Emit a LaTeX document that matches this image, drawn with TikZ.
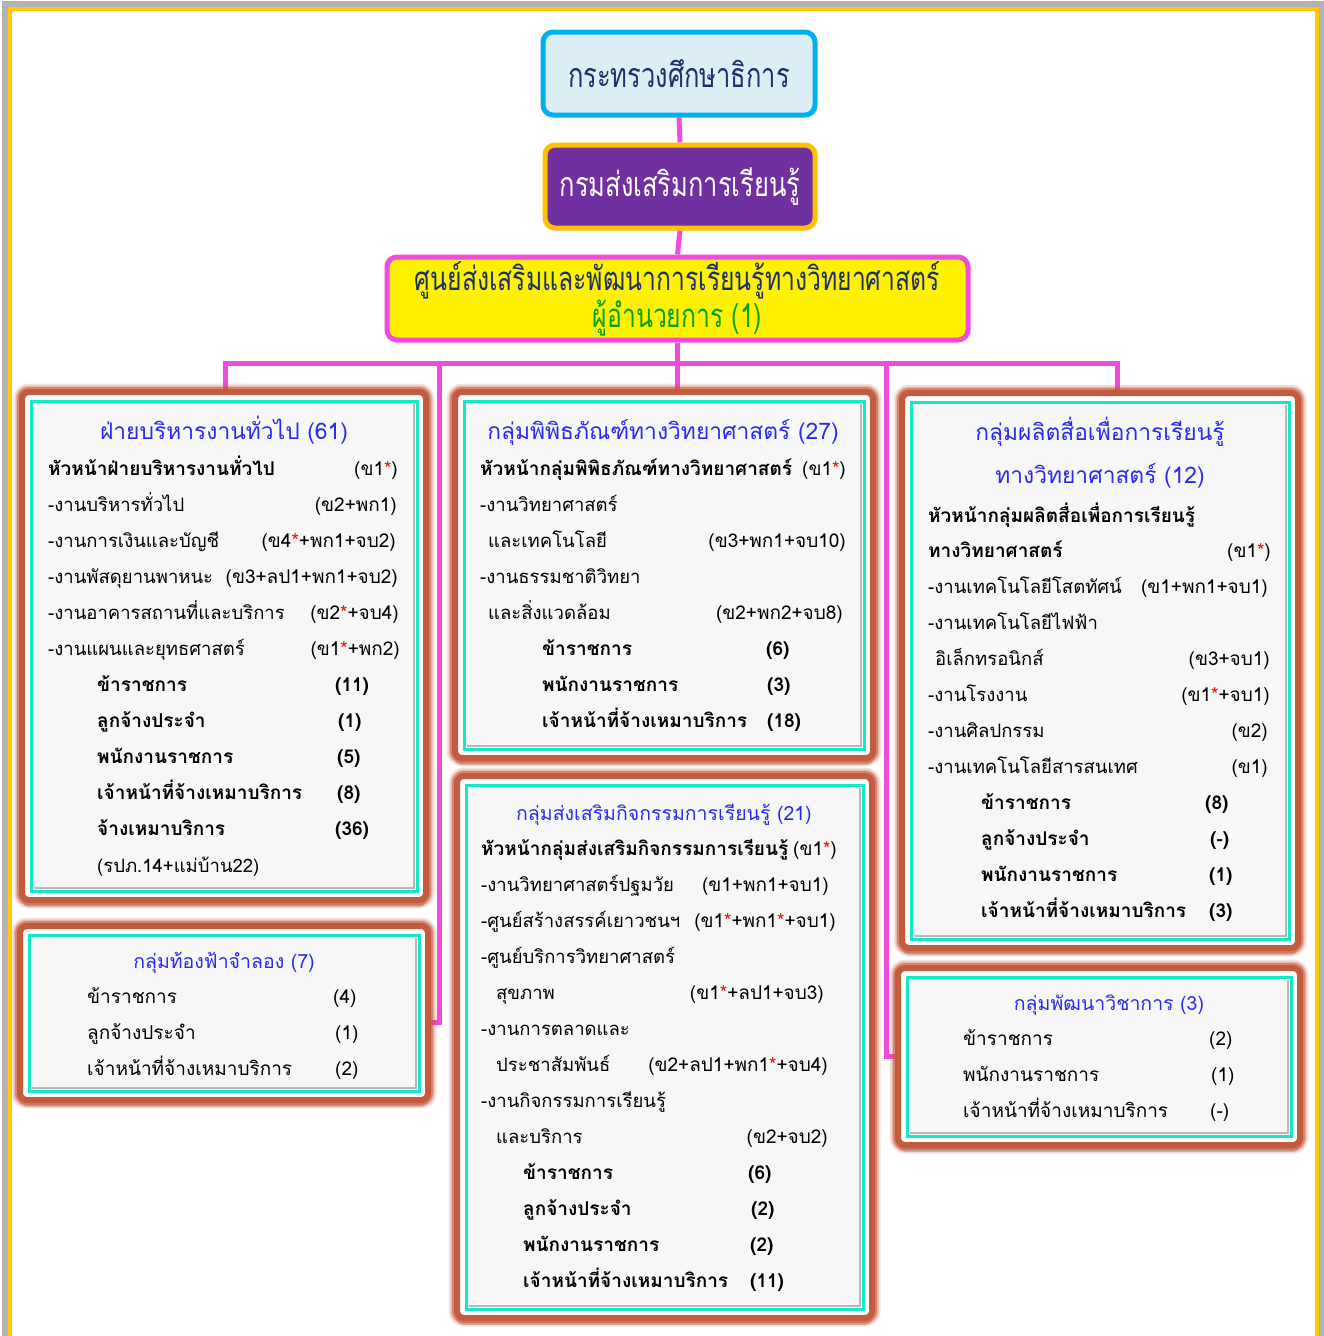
\documentclass[tikz,border=0pt]{standalone}
\usepackage{fontspec}
\setmainfont[Script=Thai]{Loma}
\newfontfamily\condthai[Script=Thai,FakeStretch=0.75]{Loma}
\usetikzlibrary{fit,backgrounds,calc,shadows}
\definecolor{glow}{HTML}{C45A3E}
\definecolor{turq}{HTML}{14E8C4}
\definecolor{innerfill}{HTML}{F7F7F7}
\definecolor{ttlblue}{HTML}{2B2BF0}
\definecolor{conncol}{HTML}{F24ADC}
\definecolor{framegold}{HTML}{FFCC00}
\definecolor{navy}{HTML}{1F2F6B}
\definecolor{darkgreen}{HTML}{0AA00A}
\definecolor{topfill}{HTML}{DAEEF3}
\definecolor{topdraw}{HTML}{00B0F0}
\definecolor{deptfill}{HTML}{7030A0}
\definecolor{deptdraw}{HTML}{FFC000}
\newcommand\redstar{\textcolor{red}{*}}
\newcommand\orgbox[5]{%
  \node[outerbox, fit={(#2,#3) (#4,#5)}] (#1) {};
  \node[innerbox, fit={(#2+9,#3+9) (#4-9,#5-9)}] (#1i) {};
  \draw[bevel] (#2+12,#5-12) -- (#4-12,#5-12) -- (#4-12,#3+12);
}
\tikzset{
  outerbox/.style={rounded corners=7pt, inner sep=0pt, fill=white, draw=glow, line width=6pt,
    drop shadow={shadow xshift=0pt, shadow yshift=-7pt, opacity=0.16, fill=black},
    preaction={draw=glow, line width=17pt, opacity=0.18},
    preaction={draw=glow, line width=13pt, opacity=0.3},
    preaction={draw=glow, line width=10pt, opacity=0.55}},
  innerbox/.style={inner sep=0pt, fill=innerfill, draw=turq, line width=3pt},
  bevel/.style={draw=black!28, line width=2.5pt},
  conn/.style={draw=conncol, line width=5pt},
  lab/.style={anchor=base west, inner sep=0pt, font=\fontsize{18.5}{20}\selectfont},
  labm/.style={anchor=base west, inner sep=0pt, font=\fontsize{19}{20}\selectfont},
  labb/.style={anchor=base west, inner sep=0pt, font=\fontsize{19}{20}\selectfont\bfseries},
  val/.style={anchor=base east, inner sep=0pt, font=\fontsize{19}{20}\selectfont},
  valb/.style={anchor=base west, inner sep=0pt, font=\fontsize{19}{20}\selectfont\bfseries},
  valr/.style={anchor=base west, inner sep=0pt, font=\fontsize{19}{20}\selectfont},
  ttl/.style={anchor=base, inner sep=0pt, text=ttlblue, font=\fontsize{22.8}{24}\selectfont},
  ttls/.style={anchor=base, inner sep=0pt, text=ttlblue, font=\fontsize{19.5}{21}\selectfont},
  topbox/.style={rounded corners=10pt, line width=5pt, align=center, inner sep=0pt}
}
\begin{document}
\begin{tikzpicture}[x=1pt,y=-1pt]
\useasboundingbox (0,0) rectangle (1324,1336);
% top level boxes
\node[topbox, fill=topfill, draw=topdraw, minimum width=272pt, minimum height=83pt,
      text=navy, font=\condthai\fontsize{34}{36}\selectfont] (top) at (679,73.5) {กระทรวงศึกษาธิการ};
\node[topbox, fill=deptfill, draw=deptdraw, minimum width=270pt, minimum height=83pt,
      text=white, font=\condthai\fontsize{34}{36}\selectfont] (dept) at (680,186.5) {กรมส่งเสริมการเรียนรู้};
\node[topbox, fill=yellow, draw=conncol, minimum width=581pt, minimum height=83pt,
      text=navy, font=\condthai\fontsize{33}{34}\selectfont] (ctr) at (677.5,298.5)
      {ศูนย์ส่งเสริมและพัฒนาการเรียนรู้ทางวิทยาศาสตร์\\\textcolor{darkgreen}{ผู้อำนวยการ (1)}};
% group boxes
\orgbox{boxA}{22}{392}{426}{900}
\orgbox{boxB}{455}{392}{873}{758}
\orgbox{boxC}{902}{393}{1298}{948}
\orgbox{boxD}{457}{776}{872}{1318}
\orgbox{boxF}{20}{926}{428}{1100}
\orgbox{boxE}{898}{968}{1300}{1145}
% connectors and frame
\begin{scope}[on background layer]
\draw[black!30, line width=6pt] (5,4) rectangle (1322,1360);
\draw[framegold, line width=4.5pt] (10,9) rectangle (1317,1360);
\coordinate (bus) at (677.5,363);
\coordinate (busA) at (225,363);
\coordinate (busC) at (1117,363);
\coordinate (busL) at (439,363);
\coordinate (busR) at (886,363);
\draw[conn] (top.south) -- (dept.north);
\draw[conn] (dept.south) -- (ctr.north);
\draw[conn] (ctr.south) -- (bus);
\draw[conn] (busA |- boxA.north) -- (busA) -- (busC) -- (busC |- boxC.north);
\draw[conn] (bus) -- (bus |- boxB.north);
\draw[conn] (busL) |- ($(boxF.east)+(0,9)$);
\draw[conn] (busR) |- (boxE.west);
\end{scope}
% ---- box A
\node[ttl] (a0) at (224,439) {ฝ่ายบริหารงานทั่วไป (61)};
\node[labb] (a1) at (48,475) {หัวหน้าฝ่ายบริหารงานทั่วไป};
\node[val] (a1v) at (398,475) {(ข1\redstar)};
\node[lab] (a2) at (48,511) {-งานบริหารทั่วไป};
\node[val] (a2v) at (397,511) {(ข2+พก1)};
\node[lab] (a3) at (48,547) {-งานการเงินและบัญชี};
\node[val] (a3v) at (396,547) {(ข4\redstar+พก1+จบ2)};
\node[lab] (a4) at (48,583) {-งานพัสดุยานพาหนะ};
\node[val] (a4v) at (398,583) {(ข3+ลป1+พก1+จบ2)};
\node[lab] (a5) at (48,619) {-งานอาคารสถานที่และบริการ};
\node[val] (a5v) at (399,619) {(ข2\redstar+จบ4)};
\node[lab] (a6) at (48,655) {-งานแผนและยุทธศาสตร์};
\node[val] (a6v) at (400,655) {(ข1\redstar+พก2)};
\node[labb] (a7) at (97,691) {ข้าราชการ};
\node[valb] (a7v) at (335,691) {(11)};
\node[labb] (a8) at (97,727) {ลูกจ้างประจำ};
\node[valb] (a8v) at (338,727) {(1)};
\node[labb] (a9) at (97,763) {พนักงานราชการ};
\node[valb] (a9v) at (337,763) {(5)};
\node[labb] (a10) at (97,799) {เจ้าหน้าที่จ้างเหมาบริการ};
\node[valb] (a10v) at (337,799) {(8)};
\node[labb] (a11) at (97,835) {จ้างเหมาบริการ};
\node[valb] (a11v) at (335,835) {(36)};
\node[lab] (a12) at (97,872) {(รปภ.14+แม่บ้าน22)};
% ---- box F
\node[ttls] (f0) at (224,968) {กลุ่มท้องฟ้าจำลอง (7)};
\node[labm] (f1) at (87,1003) {ข้าราชการ};
\node[valr] (f1v) at (333,1003) {(4)};
\node[labm] (f2) at (87,1039) {ลูกจ้างประจำ};
\node[valr] (f2v) at (335,1039) {(1)};
\node[labm] (f3) at (87,1075) {เจ้าหน้าที่จ้างเหมาบริการ};
\node[valr] (f3v) at (335,1075) {(2)};
% ---- box B
\node[ttl] (b0) at (663,439) {กลุ่มพิพิธภัณฑ์ทางวิทยาศาสตร์ (27)};
\node[labb] (b1) at (480,475) {หัวหน้ากลุ่มพิพิธภัณฑ์ทางวิทยาศาสตร์};
\node[val] (b1v) at (846,475) {(ข1\redstar)};
\node[lab] (b2) at (480,511) {-งานวิทยาศาสตร์};
\node[lab] (b3) at (488,547) {และเทคโนโลยี};
\node[val] (b3v) at (846,547) {(ข3+พก1+จบ10)};
\node[lab] (b4) at (480,583) {-งานธรรมชาติวิทยา};
\node[lab] (b5) at (488,619) {และสิ่งแวดล้อม};
\node[val] (b5v) at (843,619) {(ข2+พก2+จบ8)};
\node[labb] (b6) at (542,655) {ข้าราชการ};
\node[valb] (b6v) at (766,655) {(6)};
\node[labb] (b7) at (542,691) {พนักงานราชการ};
\node[valb] (b7v) at (767,691) {(3)};
\node[labb] (b8) at (542,727) {เจ้าหน้าที่จ้างเหมาบริการ};
\node[valb] (b8v) at (767,727) {(18)};
% ---- box C
\node[ttl] (c0) at (1100,440) {กลุ่มผลิตสื่อเพื่อการเรียนรู้};
\node[ttl] (c0b) at (1100,483) {ทางวิทยาศาสตร์ (12)};
\node[labb] (c1) at (928,522) {หัวหน้ากลุ่มผลิตสื่อเพื่อการเรียนรู้};
\node[labb] (c2) at (928,557) {ทางวิทยาศาสตร์};
\node[val] (c2v) at (1271,557) {(ข1\redstar)};
\node[lab] (c3) at (928,593) {-งานเทคโนโลยีโสตทัศน์};
\node[val] (c3v) at (1268,593) {(ข1+พก1+จบ1)};
\node[lab] (c4) at (928,629) {-งานเทคโนโลยีไฟฟ้า};
\node[lab] (c5) at (935,665) {อิเล็กทรอนิกส์};
\node[val] (c5v) at (1270,665) {(ข3+จบ1)};
\node[lab] (c6) at (928,701) {-งานโรงงาน};
\node[val] (c6v) at (1270,701) {(ข1\redstar+จบ1)};
\node[lab] (c7) at (928,737) {-งานศิลปกรรม};
\node[val] (c7v) at (1268,737) {(ข2)};
\node[lab] (c8) at (928,773) {-งานเทคโนโลยีสารสนเทศ};
\node[val] (c8v) at (1268,773) {(ข1)};
\node[labb] (c9) at (981,809) {ข้าราชการ};
\node[valb] (c9v) at (1205,809) {(8)};
\node[labb] (c10) at (981,845) {ลูกจ้างประจำ};
\node[valb] (c10v) at (1210,845) {(-)};
\node[labb] (c11) at (981,881) {พนักงานราชการ};
\node[valb] (c11v) at (1209,881) {(1)};
\node[labb] (c12) at (981,917) {เจ้าหน้าที่จ้างเหมาบริการ};
\node[valb] (c12v) at (1209,917) {(3)};
% ---- box D
\node[ttls] (d0) at (664,820) {กลุ่มส่งเสริมกิจกรรมการเรียนรู้ (21)};
\node[labb] (d1) at (481,855) {หัวหน้ากลุ่มส่งเสริมกิจกรรมการเรียนรู้};
\node[val] (d1v) at (837,855) {(ข1\redstar)};
\node[lab] (d2) at (481,891) {-งานวิทยาศาสตร์ปฐมวัย};
\node[val] (d2v) at (829,891) {(ข1+พก1+จบ1)};
\node[lab] (d3) at (481,927) {-ศูนย์สร้างสรรค์เยาวชนฯ};
\node[val] (d3v) at (836,927) {(ข1\redstar+พก1\redstar+จบ1)};
\node[lab] (d4) at (481,963) {-ศูนย์บริการวิทยาศาสตร์};
\node[lab] (d5) at (496,999) {สุขภาพ};
\node[val] (d5v) at (824,999) {(ข1\redstar+ลป1+จบ3)};
\node[lab] (d6) at (481,1035) {-งานการตลาดและ};
\node[lab] (d7) at (496,1071) {ประชาสัมพันธ์};
\node[val] (d7v) at (828,1071) {(ข2+ลป1+พก1\redstar+จบ4)};
\node[lab] (d8) at (481,1107) {-งานกิจกรรมการเรียนรู้};
\node[lab] (d9) at (496,1143) {และบริการ};
\node[val] (d9v) at (828,1143) {(ข2+จบ2)};
\node[labb] (d10) at (523,1179) {ข้าราชการ};
\node[valb] (d10v) at (748,1179) {(6)};
\node[labb] (d11) at (523,1215) {ลูกจ้างประจำ};
\node[valb] (d11v) at (751,1215) {(2)};
\node[labb] (d12) at (523,1251) {พนักงานราชการ};
\node[valb] (d12v) at (750,1251) {(2)};
\node[labb] (d13) at (523,1287) {เจ้าหน้าที่จ้างเหมาบริการ};
\node[valb] (d13v) at (750,1287) {(11)};
% ---- box E
\node[ttls] (e0) at (1109,1010) {กลุ่มพัฒนาวิชาการ (3)};
\node[labm] (e1) at (963,1045) {ข้าราชการ};
\node[valr] (e1v) at (1209,1045) {(2)};
\node[labm] (e2) at (963,1081) {พนักงานราชการ};
\node[valr] (e2v) at (1211,1081) {(1)};
\node[labm] (e3) at (963,1117) {เจ้าหน้าที่จ้างเหมาบริการ};
\node[valr] (e3v) at (1210,1117) {(-)};
\end{tikzpicture}
\end{document}
